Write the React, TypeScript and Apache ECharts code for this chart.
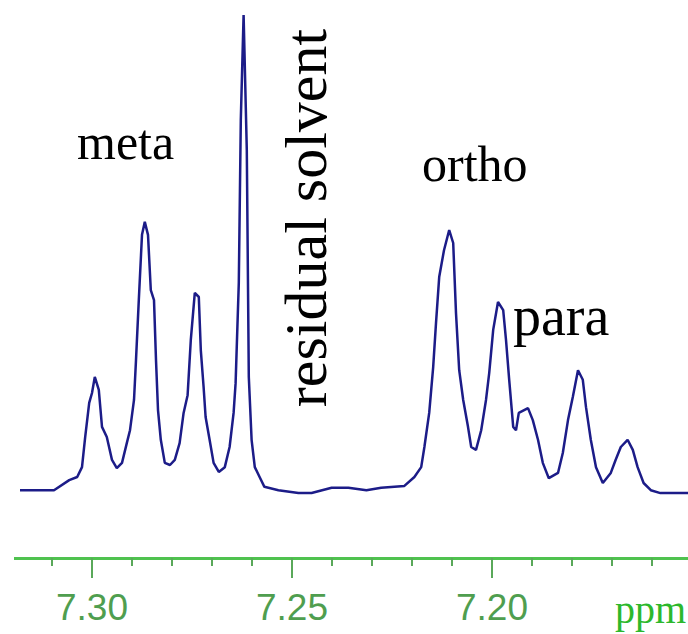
import React, { useEffect, useRef } from "react";
import * as echarts from "echarts";

// Chemical shift (ppm) of each sampled point of the trace
const ppm: number[] = [
  7.318, 7.3095, 7.3057, 7.3037, 7.3025, 7.3017, 7.3007, 7.3, 7.2993, 7.2983,
  7.2975, 7.2963, 7.295, 7.2938, 7.2925, 7.2913, 7.2905, 7.2895, 7.289, 7.2883,
  7.2875, 7.2868, 7.286, 7.2853, 7.2845, 7.284, 7.2835, 7.2828, 7.2818, 7.2805,
  7.2793, 7.2781, 7.2771, 7.2761, 7.2753, 7.2743, 7.2733, 7.2728, 7.2721, 7.2716,
  7.2706, 7.2696, 7.2683, 7.2668, 7.2656, 7.2646, 7.2641, 7.2633, 7.2628, 7.2621,
  7.2613, 7.2608, 7.2601, 7.2593, 7.2581, 7.2569, 7.2534, 7.2484, 7.2451, 7.2401,
  7.2359, 7.2314, 7.2277, 7.2219, 7.2194, 7.2177, 7.2169, 7.2157, 7.2147, 7.214,
  7.2132, 7.212, 7.2107, 7.2097, 7.209, 7.2082, 7.2072, 7.206, 7.2052, 7.204,
  7.2027, 7.2015, 7.2007, 7.1997, 7.1985, 7.1972, 7.1965, 7.1957, 7.1947, 7.194,
  7.1933, 7.191, 7.1898, 7.1885, 7.1873, 7.1858, 7.1835, 7.1823, 7.181, 7.1798,
  7.1785, 7.1773, 7.1765, 7.1753, 7.174, 7.1723, 7.1703, 7.1691, 7.1678, 7.1661,
  7.1648, 7.1636, 7.1621, 7.1603, 7.1579, 7.1509,
];

// Relative intensity at each point
const intensity: number[] = [
  1.0, 1.0, 3.1, 3.75, 5.8, 12.1, 19.2, 21.25, 24.6, 21.9,
  14.2, 12.1, 7.3, 5.6, 6.7, 10.8, 13.5, 19.8, 28.1, 40.6,
  54.2, 56.9, 54.2, 42.7, 40.6, 28.1, 17.7, 11.5, 6.7, 6.25,
  7.3, 10.8, 17.1, 20.8, 32.3, 42.1, 41.25, 30.2, 22.5, 16.25,
  11.5, 6.7, 4.8, 5.8, 10.0, 17.1, 23.3, 44.2, 78.1, 100,
  71.9, 24.6, 11.5, 5.8, 3.75, 1.7, 1.0, 0.4, 0.4, 1.5,
  1.5, 1.0, 1.5, 1.9, 3.75, 5.8, 10.0, 17.1, 26.7, 35.8,
  45.4, 51.0, 55.2, 52.5, 37.9, 26.0, 19.8, 14.2, 10.0, 9.4,
  13.5, 19.8, 25.4, 34.4, 40.2, 38.5, 32.3, 24.0, 14.2, 13.5,
  17.1, 18.1, 15.6, 11.5, 6.7, 3.5, 4.6, 8.75, 15.6, 20.4,
  26.0, 24.0, 18.3, 11.5, 5.8, 2.5, 4.6, 7.3, 10.0, 11.5,
  9.4, 5.8, 2.5, 1.0, 0.4, 0.4,
];

// Labelled (major) ticks of the ppm axis
const majorTickValues: number[] = [7.3, 7.25, 7.2];
const tickLabels: string[] = ["7.30", "7.25", "7.20"];
const axisUnit = "ppm";
const peakLabels: string[] = ["meta", "ortho", "para", "residual solvent"];

// Layout: the chart canvas is wider than the page (clipped by a wrapper) so
// the ppm axis can use round limits. K = pixels per ppm.
const K = 4015;
const SHIFT = 0.05 * K - 89.75; // page x of 7.30 is ~90
const PAGE_W = 688;
const PAGE_H = 634;
const INNER_W = 0.2 * K + 4;
const Y_MIN = -13.125;

export default function App() {
  const ref = useRef<HTMLDivElement>(null);

  useEffect(() => {
    if (!ref.current) return;
    const chart = echarts.init(ref.current, undefined, { renderer: "svg" });
    const data = ppm.map((p, i) => [p, intensity[i]]);
    const serif = "'Liberation Serif', 'Times New Roman', serif";
    const tickColor = "#5aa85a";

    chart.setOption({
      animation: false,
      backgroundColor: "#ffffff",
      grid: { left: 0, right: 4, top: 15, bottom: 76, containLabel: false },
      xAxis: {
        type: "value",
        inverse: true,
        min: 7.15,
        max: 7.35,
        interval: 0.05,
        axisLine: { show: true, onZero: false, lineStyle: { color: "#4fc24f", width: 3 } },
        axisTick: { show: false },
        minorTick: { show: true, splitNumber: 5, length: 8, lineStyle: { color: tickColor, width: 2 } },
        splitLine: { show: false },
        minorSplitLine: { show: false },
        axisLabel: {
          margin: 31,
          color: "#4f9e4f",
          fontFamily: "'Liberation Sans', Arial, sans-serif",
          fontSize: 37,
          showMinLabel: true,
          showMaxLabel: true,
          formatter: (v: number) => {
            const s = v.toFixed(2);
            return tickLabels.includes(s) ? s : "";
          },
        },
      },
      yAxis: { type: "value", min: Y_MIN, max: 100, show: false },
      series: [
        {
          type: "line",
          data,
          symbol: "none",
          clip: false,
          lineStyle: { color: "#1c1c88", width: 2.5 },
        },
        {
          // long major ticks, placed through the axis scale
          type: "custom",
          clip: false,
          silent: true,
          z: 5,
          data: majorTickValues.map((v) => [v, Y_MIN]),
          renderItem: (params: any, api: any) => {
            const p = api.coord([api.value(0), api.value(1)]);
            return {
              type: "line",
              shape: { x1: p[0], y1: p[1], x2: p[0], y2: p[1] + 20 },
              style: { stroke: tickColor, lineWidth: 2 },
            };
          },
        },
      ],
      graphic: [
        {
          type: "rect", z: 100,
          shape: { x: 0, y: 545, width: SHIFT + 14, height: 45 },
          style: { fill: "#ffffff" },
        },
        {
          type: "text", x: SHIFT + 77, y: 142, z: 100,
          style: { text: peakLabels[0], fill: "#000", font: `50px ${serif}`, textAlign: "left", textVerticalAlign: "middle" },
        },
        {
          type: "text", x: SHIFT + 422, y: 164, z: 100,
          style: { text: peakLabels[1], fill: "#000", font: `50px ${serif}`, textAlign: "left", textVerticalAlign: "middle" },
        },
        {
          type: "text", x: SHIFT + 513, y: 316, z: 100,
          style: { text: peakLabels[2], fill: "#000", font: `56px ${serif}`, textAlign: "left", textVerticalAlign: "middle" },
        },
        {
          type: "text", x: SHIFT + 306, y: 218, rotation: Math.PI / 2, z: 100,
          style: { text: peakLabels[3], fill: "#000", font: `60px ${serif}`, textAlign: "center", textVerticalAlign: "middle" },
        },
        {
          type: "text", x: SHIFT + 615, y: 609, z: 100,
          style: { text: axisUnit, fill: "#2cb82c", font: `40px ${serif}`, textAlign: "left", textVerticalAlign: "middle" },
        },
      ],
    });
    return () => chart.dispose();
  }, []);

  return (
    <div
      style={{
        position: "fixed",
        left: 0,
        top: 0,
        width: PAGE_W,
        height: PAGE_H,
        overflow: "hidden",
        background: "#ffffff",
      }}
    >
      <div
        ref={ref}
        style={{ position: "absolute", left: -SHIFT, top: 0, width: INNER_W, height: PAGE_H }}
      />
    </div>
  );
}
